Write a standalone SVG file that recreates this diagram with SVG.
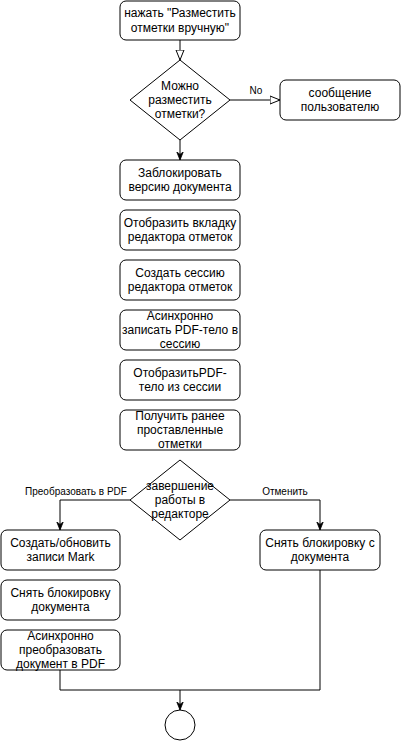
<svg xmlns="http://www.w3.org/2000/svg" width="401" height="741" viewBox="0 0 401 741">
<style>
.n{fill:#fff;stroke:#000;stroke-width:1}
.t{font-family:"Liberation Sans",Arial,sans-serif;font-size:12px;fill:#000;text-anchor:middle}
.l{font-family:"Liberation Sans",Arial,sans-serif;font-size:10px;fill:#000;text-anchor:middle}
.e{fill:none;stroke:#000;stroke-width:1}
</style>
<defs>
<marker id="open" viewBox="0 0 10 10" refX="10" refY="5" markerWidth="10" markerHeight="10" markerUnits="userSpaceOnUse" orient="auto"><path d="M0,1 L10,5 L0,9 Z" fill="#fff" stroke="#000" stroke-width="1"/></marker>
<marker id="fill" viewBox="0 0 10 10" refX="10" refY="5" markerWidth="8" markerHeight="8" markerUnits="userSpaceOnUse" orient="auto"><path d="M0,1 L10,5 L0,9 L3,5 Z" fill="#000" stroke="#000" stroke-width="1"/></marker>
</defs>
<rect width="401" height="741" fill="#fff"/>
<g id="connectors">
<path class="e" d="M180,40 L180,60" marker-end="url(#open)"/>
<path class="e" d="M230,100 L280,100" marker-end="url(#open)"/>
<text class="l" x="256" y="94">No</text>
<path class="e" d="M180,140 L180,160" marker-end="url(#fill)"/>
<path class="e" d="M130,500 L60,500 L60,530" marker-end="url(#fill)"/>
<text class="l" x="76" y="495">Преобразовать в PDF</text>
<path class="e" d="M230,500 L320,500 L320,530" marker-end="url(#fill)"/>
<text class="l" x="285" y="495">Отменить</text>
<path class="e" d="M60,670 L60,690 L180,690 L180,710" marker-end="url(#fill)"/>
<path class="e" d="M320,570 L320,690 L180,690"/>
</g>
<g id="start">
<rect class="n" x="120" y="1" width="120" height="39" rx="6"/>
<text class="t" x="180" y="17">нажать "Разместить</text>
<text class="t" x="180" y="31.5">отметки вручную"</text>
</g>
<g id="decision1">
<path class="n" d="M180,60 L230,100 L180,140 L130,100 Z"/>
<text class="t" x="180" y="89.6">Можно</text>
<text class="t" x="180" y="104">разместить</text>
<text class="t" x="180" y="118.4">отметки?</text>
</g>
<g id="message">
<rect class="n" x="280" y="80" width="120" height="40" rx="6"/>
<text class="t" x="340" y="96.8">сообщение</text>
<text class="t" x="340" y="111.2">пользователю</text>
</g>
<g id="lock">
<rect class="n" x="120" y="160" width="120" height="40" rx="6"/>
<text class="t" x="180" y="176.8">Заблокировать</text>
<text class="t" x="180" y="191.2">версию документа</text>
</g>
<g id="tab">
<rect class="n" x="120" y="210" width="120" height="40" rx="6"/>
<text class="t" x="180" y="226.8">Отобразить вкладку</text>
<text class="t" x="180" y="241.2">редактора отметок</text>
</g>
<g id="session">
<rect class="n" x="120" y="260" width="120" height="40" rx="6"/>
<text class="t" x="180" y="276.8">Создать сессию</text>
<text class="t" x="180" y="291.2">редактора отметок</text>
</g>
<g id="write">
<rect class="n" x="120" y="310" width="120" height="40" rx="6"/>
<text class="t" x="180" y="319.6">Асинхронно</text>
<text class="t" x="180" y="334">записать PDF-тело в</text>
<text class="t" x="180" y="348.4">сессию</text>
</g>
<g id="show">
<rect class="n" x="120" y="360" width="120" height="40" rx="6"/>
<text class="t" x="180" y="376.8">ОтобразитьPDF-</text>
<text class="t" x="180" y="391.2">тело из сессии</text>
</g>
<g id="get">
<rect class="n" x="120" y="410" width="120" height="40" rx="6"/>
<text class="t" x="180" y="419.6">Получить ранее</text>
<text class="t" x="180" y="434">проставленные</text>
<text class="t" x="180" y="448.4">отметки</text>
</g>
<g id="decision2">
<path class="n" d="M180,460 L230,500 L180,540 L130,500 Z"/>
<text class="t" x="180" y="489.6">завершение</text>
<text class="t" x="180" y="504">работы в</text>
<text class="t" x="180" y="518.4">редакторе</text>
</g>
<g id="mark">
<rect class="n" x="1" y="530" width="119" height="40" rx="6"/>
<text class="t" x="60.5" y="546.8">Создать/обновить</text>
<text class="t" x="60.5" y="561.2">записи Mark</text>
</g>
<g id="unlock2">
<rect class="n" x="260" y="530" width="120" height="40" rx="6"/>
<text class="t" x="320" y="546.8">Снять блокировку с</text>
<text class="t" x="320" y="561.2">документа</text>
</g>
<g id="unlock1">
<rect class="n" x="1" y="580" width="119" height="40" rx="6"/>
<text class="t" x="60.5" y="596.8">Снять блокировку</text>
<text class="t" x="60.5" y="611.2">документа</text>
</g>
<g id="convert">
<rect class="n" x="1" y="630" width="119" height="40" rx="6"/>
<text class="t" x="60.5" y="639.6">Асинхронно</text>
<text class="t" x="60.5" y="654">преобразовать</text>
<text class="t" x="60.5" y="668.4">документ в PDF</text>
</g>
<g id="end">
<circle class="n" cx="180" cy="725" r="15"/>
</g>
</svg>
